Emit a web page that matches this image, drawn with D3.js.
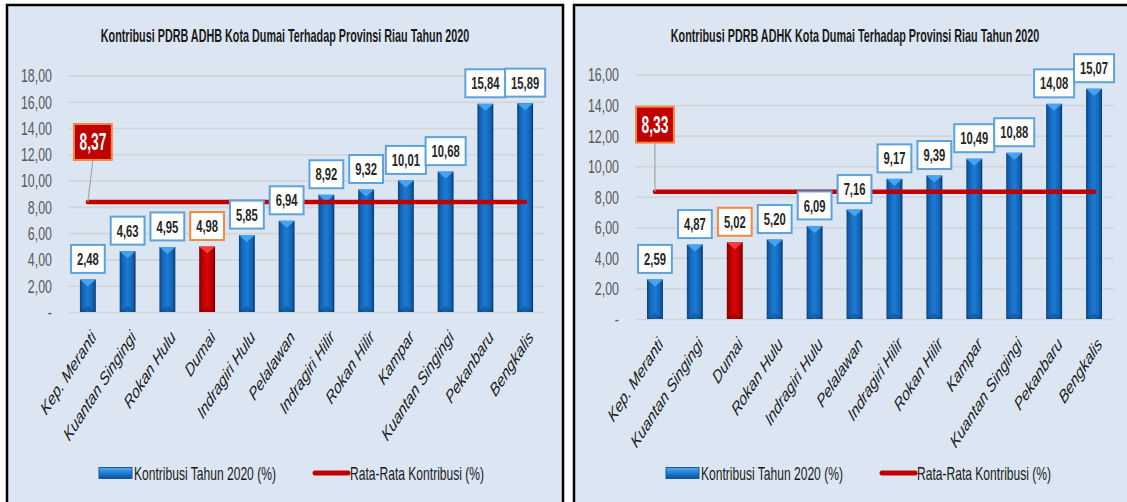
<!DOCTYPE html>
<html>
<head>
<meta charset="utf-8">
<script src="https://cdn.jsdelivr.net/npm/d3@7"></script>
<style>
  body { margin: 0; background: #fff; }
  svg { display: block; font-family: "Liberation Sans", Arial, sans-serif; }
</style>
</head>
<body>
<div id="chart-container"></div>
<script>
// Data
var categoriesADHB = ["Kep. Meranti", "Kuantan Singingi", "Rokan Hulu", "Dumai", "Indragiri Hulu", "Pelalawan",
    "Indragiri Hilir", "Rokan Hilir", "Kampar", "Kuantan Singingi", "Pekanbaru", "Bengkalis"];
var valuesADHB = [2.48, 4.63, 4.95, 4.98, 5.85, 6.94, 8.92, 9.32, 10.01, 10.68, 15.84, 15.89];
var averageADHB = 8.37;
var ticksADHB = [0, 2, 4, 6, 8, 10, 12, 14, 16, 18];

var categoriesADHK = ["Kep. Meranti", "Kuantan Singingi", "Dumai", "Rokan Hulu", "Indragiri Hulu", "Pelalawan",
    "Indragiri Hilir", "Rokan Hilir", "Kampar", "Kuantan Singingi", "Pekanbaru", "Bengkalis"];
var valuesADHK = [2.59, 4.87, 5.02, 5.20, 6.09, 7.16, 9.17, 9.39, 10.49, 10.88, 14.08, 15.07];
var averageADHK = 8.33;
var ticksADHK = [0, 2, 4, 6, 8, 10, 12, 14, 16];

var highlight = "Dumai";
var legendLabels = ["Kontribusi Tahun 2020 (%)", "Rata-Rata Kontribusi (%)"];

var svg = d3.select("#chart-container").append("svg")
    .attr("width", 1127)
    .attr("height", 502);

var defs = svg.append("defs");

// gradient helper
function gradient(id, vertical, stops) {
    var gr = defs.append("linearGradient").attr("id", id)
        .attr("x1", 0).attr("y1", 0)
        .attr("x2", vertical ? 0 : 1).attr("y2", vertical ? 1 : 0);
    stops.forEach(function(s) {
        gr.append("stop").attr("offset", s[0]).attr("stop-color", s[1]);
    });
}
gradient("barBlue", false, [[0, "#0a437f"], [0.18, "#1465b6"], [0.5, "#1c7bd6"], [0.82, "#1263b3"], [1, "#07396d"]]);
gradient("barRed", false, [[0, "#800000"], [0.18, "#b80000"], [0.5, "#d80808"], [0.82, "#b50000"], [1, "#760000"]]);
gradient("legendBlue", true, [[0, "#58aef2"], [0.45, "#2382d9"], [1, "#0d4f97"]]);

// squeezed text: the picture is narrow, so glyphs are scaled horizontally
function squeeze(x, y, k, extra) {
    return "translate(" + x + "," + y + ") scale(" + k + ",1)" + (extra || "");
}

function fmt(v) {
    return d3.format(".2f")(v).replace(".", ",");
}

function drawPanel(p) {
    var g = svg.append("g");

    g.append("rect")
        .attr("x", p.left).attr("y", 5)
        .attr("width", p.boxWidth).attr("height", 540)
        .attr("fill", "#dce6f2")
        .attr("stroke", "#000")
        .attr("stroke-width", 2.5);

    g.append("text")
        .attr("transform", squeeze(p.left + p.boxWidth / 2, 42, 0.6))
        .attr("text-anchor", "middle")
        .attr("font-size", 18)
        .attr("font-weight", "bold")
        .attr("fill", "#1a1a1a")
        .text(p.title);

    var x = d3.scaleBand()
        .domain(d3.range(p.names.length))
        .range([p.plotLeft, p.plotRight])
        .paddingInner(0.6)
        .paddingOuter(0.3);

    var y = d3.scaleLinear()
        .domain([0, d3.max(p.ticks)])
        .range([p.yZero, p.yTop]);

    // y axis with gridlines
    var yAxis = d3.axisLeft(y)
        .tickValues(p.ticks)
        .tickSize(-(p.plotRight - p.plotLeft))
        .tickFormat(function(d) { return d === 0 ? "-" : fmt(d); });

    var ya = g.append("g")
        .attr("transform", "translate(" + p.plotLeft + ",0)")
        .call(yAxis)
        .attr("font-family", null).attr("font-size", null);
    ya.select(".domain").remove();
    ya.selectAll("line").attr("stroke", "#d2d4d6").attr("stroke-width", 1.6);
    ya.selectAll("text")
        .attr("x", null).attr("dy", null)
        .attr("fill", "#595959")
        .attr("font-size", 18)
        .attr("text-anchor", "end")
        .attr("transform", squeeze(-16, 6.4, 0.69));

    // x axis labels, rotated
    var xAxis = d3.axisBottom(x)
        .tickSize(0)
        .tickFormat(function(i) { return p.names[i]; });

    var xa = g.append("g")
        .attr("transform", "translate(0," + p.yZero + ")")
        .call(xAxis)
        .attr("font-family", null).attr("font-size", null);
    xa.select(".domain").remove();
    xa.selectAll("text")
        .attr("y", null).attr("dy", null)
        .attr("text-anchor", "end")
        .attr("font-size", 18.5)
        .attr("font-style", "italic")
        .attr("fill", "#1a1a1a")
        .attr("transform", squeeze(9, 26, 0.72, " rotate(-48)"));

    // bars
    var bw = x.bandwidth();
    var bars = g.append("g").selectAll("g")
        .data(p.values)
        .enter().append("g");

    bars.append("rect")
        .attr("x", function(d, i) { return x(i); })
        .attr("y", function(d) { return y(d); })
        .attr("width", bw)
        .attr("height", function(d) { return y(0) - y(d); })
        .attr("fill", function(d, i) { return p.names[i] === highlight ? "url(#barRed)" : "url(#barBlue)"; });

    bars.append("path")
        .attr("d", function(d, i) {
            var x0 = x(i), t = y(d);
            return "M" + x0 + "," + t + "L" + (x0 + bw) + "," + t + "L" + (x0 + bw / 2) + "," + (t + 7) + "Z";
        })
        .attr("fill", function(d, i) { return p.names[i] === highlight ? "#ff3a3a" : "#45a4f2"; });

    bars.append("path")
        .attr("d", function(d, i) {
            var x0 = x(i), b = y(0);
            return "M" + x0 + "," + b + "L" + (x0 + bw) + "," + b + "L" + (x0 + bw / 2) + "," + (b - 6) + "Z";
        })
        .attr("fill", "#000")
        .attr("opacity", 0.18);

    // average line
    var first = x(0) + bw / 2;
    var last = x(p.names.length - 1) + bw / 2;
    var yAvg = y(p.average);

    g.append("line")
        .attr("x1", first).attr("x2", last)
        .attr("y1", yAvg).attr("y2", yAvg)
        .attr("stroke", "#c00000")
        .attr("stroke-width", 4.5)
        .attr("stroke-linecap", "round");

    // value labels, drawn on top of the line
    var labels = g.append("g").selectAll("g")
        .data(p.values)
        .enter().append("g");

    labels.each(function(d, i) {
        var cx = x(i) + bw / 2;
        var bottom = y(d) - 6.5;
        var cell = d3.select(this);
        var box = cell.append("rect");
        var t = cell.append("text")
            .attr("transform", squeeze(cx, bottom - 7.9, 0.66))
            .attr("text-anchor", "middle")
            .attr("font-size", 17)
            .attr("font-weight", "bold")
            .attr("fill", "#262626")
            .text(fmt(d));
        var w = t.node().getComputedTextLength() * 0.66 + 12;
        box.attr("x", cx - w / 2).attr("y", bottom - 28)
            .attr("width", w).attr("height", 28)
            .attr("fill", "#fff")
            .attr("stroke", p.names[i] === highlight ? "#f08a3c" : "#5ea2dc")
            .attr("stroke-width", 2);
    });

    // average callout
    var cbx = first + p.avgDx;
    var cbBottom = yAvg - p.avgDy;
    g.append("line")
        .attr("x1", cbx).attr("y1", cbBottom)
        .attr("x2", first).attr("y2", yAvg)
        .attr("stroke", "#a6a6a6")
        .attr("stroke-width", 1.2);
    var cb = g.append("rect");
    var ct = g.append("text")
        .attr("transform", squeeze(cbx, cbBottom - 9.5, 0.6))
        .attr("text-anchor", "middle")
        .attr("font-size", 23)
        .attr("font-weight", "bold")
        .attr("fill", "#fff")
        .text(fmt(p.average));
    var cw = ct.node().getComputedTextLength() * 0.6 + 11;
    cb.attr("x", cbx - cw / 2).attr("y", cbBottom - 36)
        .attr("width", cw).attr("height", 36)
        .attr("fill", "#c00000")
        .attr("stroke", "#f08a3c")
        .attr("stroke-width", 2);

    // legend
    var lg = g.append("g").attr("transform", "translate(" + (p.left + 92) + ",0)");
    lg.append("rect")
        .attr("x", 0).attr("y", 467.5)
        .attr("width", 33).attr("height", 11)
        .attr("fill", "url(#legendBlue)")
        .attr("stroke", "#1b5796")
        .attr("stroke-width", 1);
    lg.append("text")
        .attr("transform", squeeze(35, 479.5, 0.69))
        .attr("font-size", 17.5)
        .attr("fill", "#1a1a1a")
        .text(legendLabels[0]);
    lg.append("line")
        .attr("x1", 216).attr("x2", 249)
        .attr("y1", 473).attr("y2", 473)
        .attr("stroke", "#c00000")
        .attr("stroke-width", 5)
        .attr("stroke-linecap", "round");
    lg.append("text")
        .attr("transform", squeeze(251, 479.5, 0.69))
        .attr("font-size", 17.5)
        .attr("fill", "#1a1a1a")
        .text(legendLabels[1]);
}

drawPanel({
    left: 7, boxWidth: 556,
    plotLeft: 68, plotRight: 545,
    yZero: 312, yTop: 75.4,
    title: "Kontribusi PDRB ADHB Kota Dumai Terhadap Provinsi Riau Tahun 2020",
    names: categoriesADHB, values: valuesADHB, average: averageADHB, ticks: ticksADHB,
    avgDx: 5, avgDy: 42
});

drawPanel({
    left: 574, boxWidth: 562,
    plotLeft: 635, plotRight: 1114,
    yZero: 319, yTop: 74.5,
    title: "Kontribusi PDRB ADHK Kota Dumai Terhadap Provinsi Riau Tahun 2020",
    names: categoriesADHK, values: valuesADHK, average: averageADHK, ticks: ticksADHK,
    avgDx: 0, avgDy: 49
});
</script>
</body>
</html>
